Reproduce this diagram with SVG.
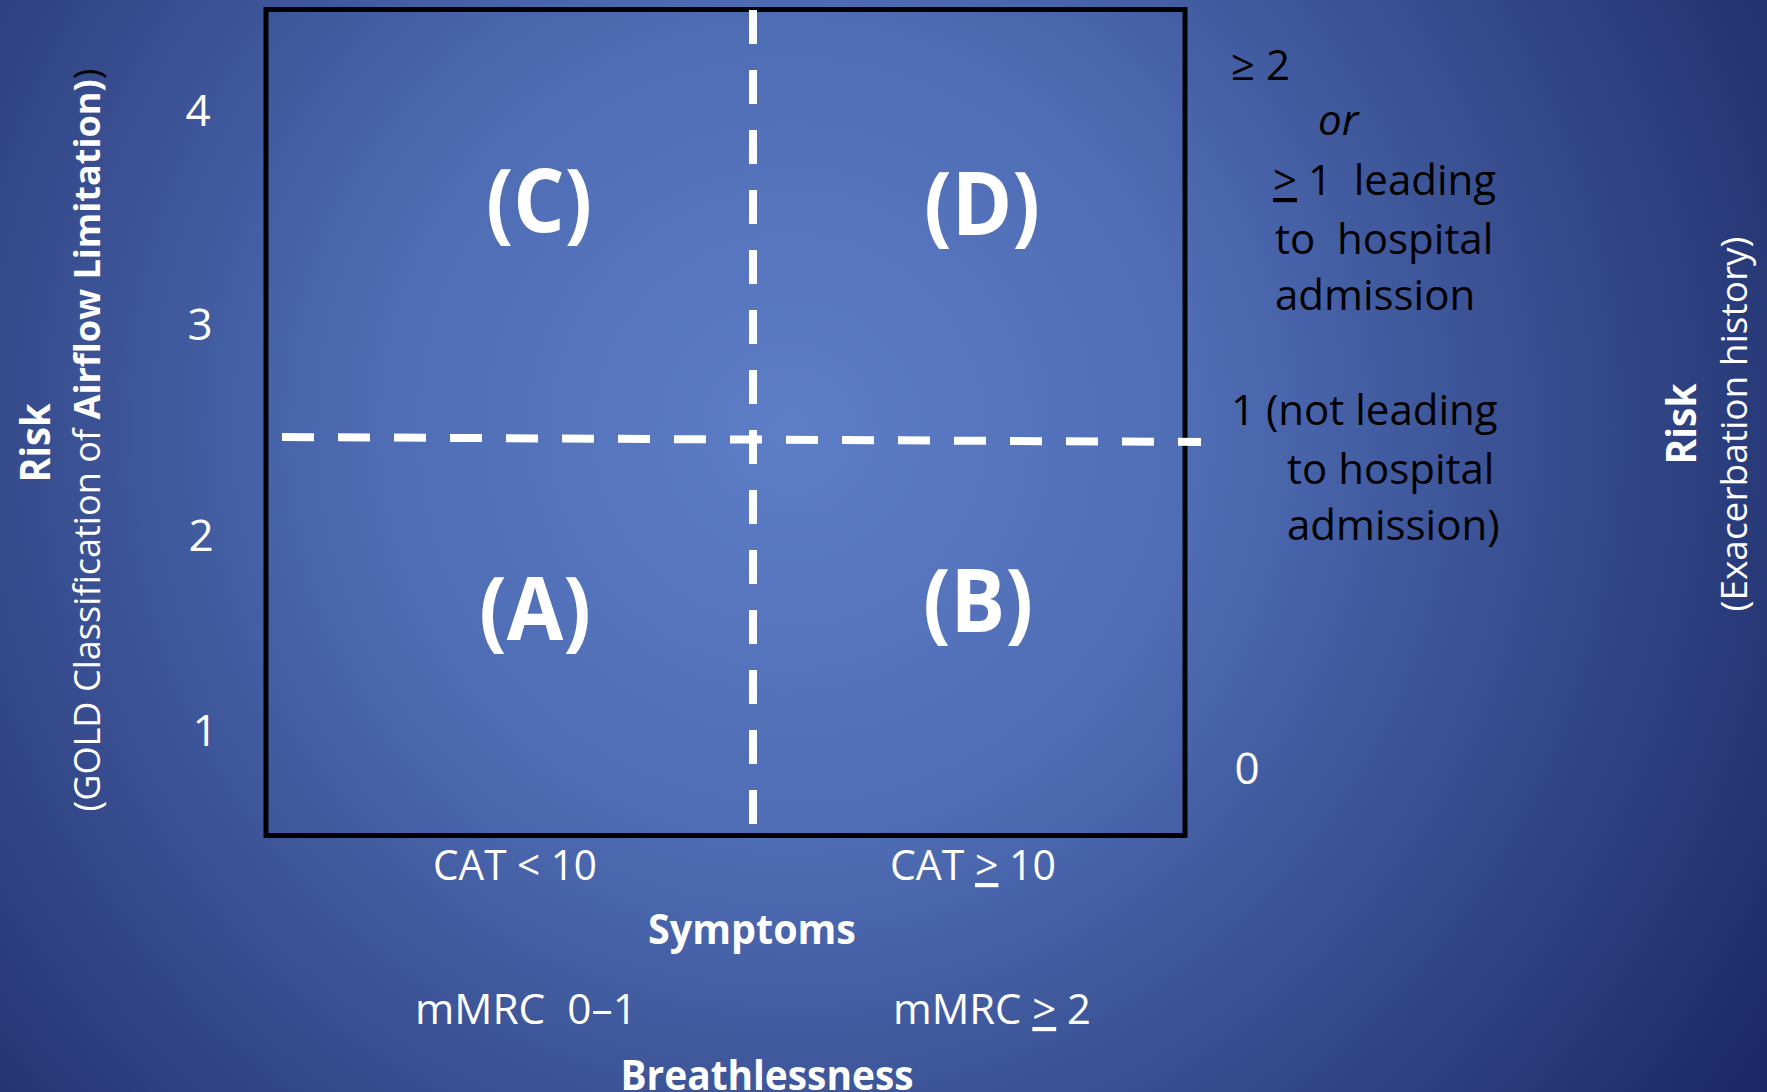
<svg xmlns="http://www.w3.org/2000/svg" width="1767" height="1092" viewBox="0 0 1767 1092">
<defs>
<radialGradient id="bg" gradientUnits="userSpaceOnUse" cx="790" cy="430" r="1150">
<stop offset="0" stop-color="#5D7DC6"/>
<stop offset="0.35" stop-color="#4F6DB5"/>
<stop offset="0.7" stop-color="#34498A"/>
<stop offset="1" stop-color="#1B2A66"/>
</radialGradient>
<style>
text{font-family:'Open Sans','Liberation Sans',sans-serif;white-space:pre}
.w{fill:#FFFFFF}
.k{fill:#000000}
.b{font-weight:bold}
.num{font-size:44px;fill:#FFFFFF;text-anchor:middle}
.quad{font-size:87px;font-weight:bold;fill:#FFFFFF;text-anchor:middle}
.rt{font-size:42px;fill:#000000}
.bot{font-size:42px;fill:#FFFFFF}
.dash{stroke:#FFFFFF;stroke-width:8;fill:none}
</style>
</defs>
<rect x="0" y="0" width="1767" height="1092" fill="url(#bg)"/>

<g id="grid">
<rect x="266" y="9.5" width="919" height="826" fill="none" stroke="#000000" stroke-width="5"/>
</g>
<g id="connectors">
<line class="dash" x1="753" y1="10" x2="753" y2="828" stroke-dasharray="34 26"/>
<line class="dash" x1="282" y1="437" x2="1201" y2="442" stroke-dasharray="32 24"/>
</g>

<g id="left-axis">
<text class="num" x="198" y="126">4</text>
<text class="num" x="200" y="340">3</text>
<text class="num" x="201" y="551">2</text>
<text class="num" x="205" y="746">1</text>
<text class="w b" font-size="42" text-anchor="middle" transform="translate(50,443) rotate(-90)" textLength="79" lengthAdjust="spacingAndGlyphs">Risk</text>
<text class="w" font-size="36" text-anchor="middle" transform="translate(100,440) rotate(-90)" textLength="743" lengthAdjust="spacingAndGlyphs">(GOLD Classification of <tspan font-weight="bold">Airflow Limitation)</tspan><tspan fill="#000000">)</tspan></text>
</g>

<g id="quad-C"><text class="quad" x="539" y="232" textLength="106" lengthAdjust="spacingAndGlyphs">(C)</text></g>
<g id="quad-D"><text class="quad" x="982" y="235" textLength="116" lengthAdjust="spacingAndGlyphs">(D)</text></g>
<g id="quad-A"><text class="quad" x="535" y="640" textLength="112" lengthAdjust="spacingAndGlyphs">(A)</text></g>
<g id="quad-B"><text class="quad" x="978" y="632" textLength="110" lengthAdjust="spacingAndGlyphs">(B)</text></g>

<g id="right-labels">
<text class="rt" x="1231" y="80">≥ 2</text>
<text class="rt" x="1318" y="135" font-style="italic">or</text>
<text class="rt" x="1273" y="195"><tspan text-decoration="underline">&gt;</tspan> 1  leading</text>
<text class="rt" x="1275" y="254">to  hospital</text>
<text class="rt" x="1275" y="310">admission</text>
<text class="rt" x="1231" y="425">1 (not leading</text>
<text class="rt" x="1287" y="484">to hospital</text>
<text class="rt" x="1287" y="540">admission)</text>
<text class="num" x="1247" y="784" font-size="42">0</text>
</g>

<g id="right-axis">
<text class="w b" font-size="42" text-anchor="middle" transform="translate(1696,424) rotate(-90)" textLength="81" lengthAdjust="spacingAndGlyphs">Risk</text>
<text class="w" font-size="36" text-anchor="middle" transform="translate(1747,424) rotate(-90)" textLength="375" lengthAdjust="spacingAndGlyphs">(Exacerbation history)</text>
</g>

<g id="bottom-axis">
<text class="bot" x="515" y="880" text-anchor="middle" textLength="164" lengthAdjust="spacingAndGlyphs">CAT &lt; 10</text>
<text class="bot" x="973" y="880" text-anchor="middle" textLength="166" lengthAdjust="spacingAndGlyphs">CAT <tspan text-decoration="underline">&gt;</tspan> 10</text>
<text class="bot b" x="752" y="944" font-size="44" text-anchor="middle" textLength="208" lengthAdjust="spacingAndGlyphs">Symptoms</text>
<text class="bot" x="526" y="1024" text-anchor="middle" textLength="222" lengthAdjust="spacingAndGlyphs">mMRC  0–1</text>
<text class="bot" x="992" y="1024" text-anchor="middle" textLength="198" lengthAdjust="spacingAndGlyphs">mMRC <tspan text-decoration="underline">&gt;</tspan> 2</text>
<text class="bot b" x="767" y="1090" font-size="44" text-anchor="middle" textLength="293" lengthAdjust="spacingAndGlyphs">Breathlessness</text>
</g>
</svg>
